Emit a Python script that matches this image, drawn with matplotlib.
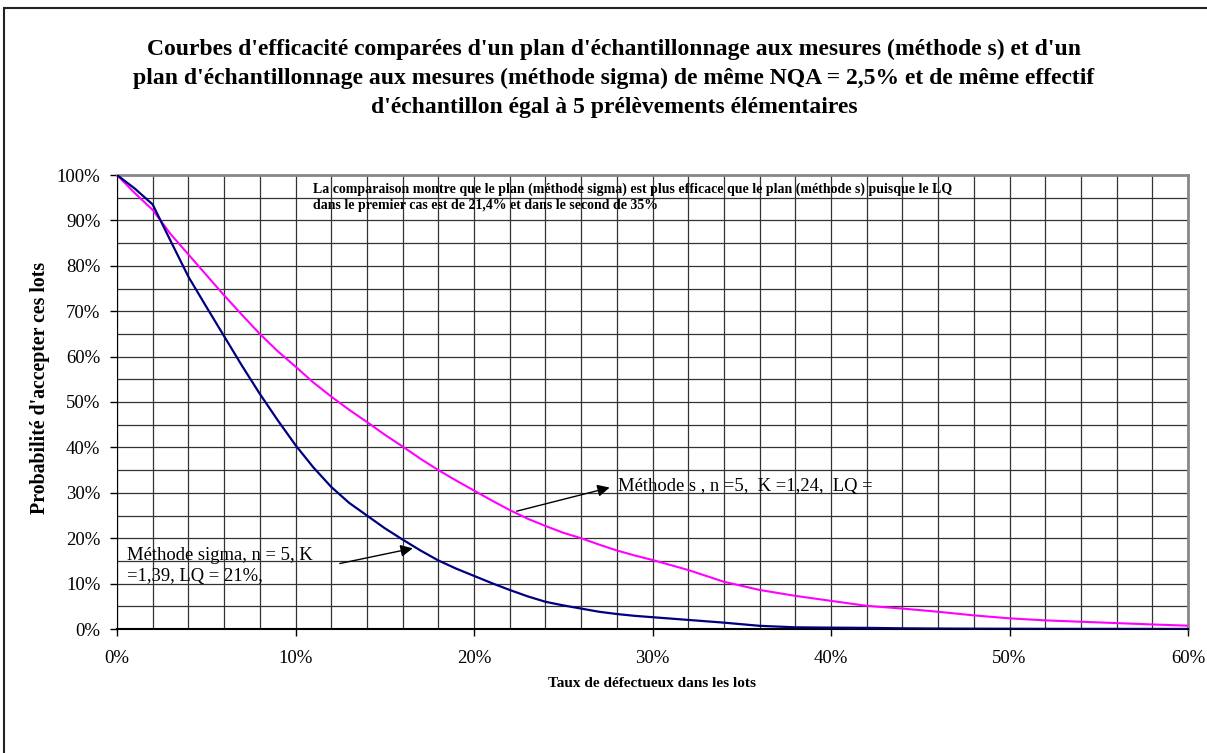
import matplotlib.pyplot as plt
from matplotlib.patches import Rectangle
from matplotlib.ticker import MultipleLocator, PercentFormatter

plt.rcParams['font.family'] = ['Liberation Serif', 'DejaVu Serif']

# Taux de défectueux (%)
taux = [0, 1, 2, 3, 4, 5, 6, 7, 8, 9, 10, 11, 12, 13, 14, 15, 16, 17, 18, 19,
        20, 21, 22, 23, 24, 25, 26, 27, 28, 29, 30, 32, 34, 36, 38, 40, 42, 44,
        46, 48, 50, 52, 54, 56, 58, 60]

# Probabilité d'acceptation (%) - méthode sigma
pa_sigma = [100, 97, 93.5, 85.5, 77.6, 71, 64.5, 58, 51.8, 46, 40.5, 35.6, 31.3,
            27.8, 25, 22.2, 19.7, 17.3, 15.1, 13.3, 11.7, 10.1, 8.6, 7.2, 6.0,
            5.2, 4.5, 3.8, 3.3, 2.9, 2.6, 2.0, 1.4, 0.7, 0.37, 0.3, 0.25, 0.15,
            0.1, 0.07, 0.05, 0.03, 0.02, 0.02, 0.01, 0.01]

# Probabilité d'acceptation (%) - méthode s
pa_s = [100, 96, 92.3, 87, 82.5, 78, 73.5, 69.2, 65, 61.2, 57.8, 54.3, 51.2,
        48.3, 45.6, 42.8, 40.2, 37.5, 35, 32.7, 30.5, 28.3, 26.2, 24.3, 22.7,
        21.2, 20, 18.6, 17.3, 16.2, 15.2, 13, 10.4, 8.6, 7.3, 6.2, 5.1, 4.5,
        3.8, 3.0, 2.35, 1.9, 1.6, 1.3, 1.0, 0.73]

titre = ("Courbes d'efficacité comparées d'un plan d'échantillonnage aux mesures (méthode s) et d'un\n"
         "plan d'échantillonnage aux mesures (méthode sigma) de même NQA = 2,5% et de même effectif\n"
         "d'échantillon égal à 5 prélèvements élémentaires")

fig = plt.figure(figsize=(12.07, 7.53), dpi=100)
ax = fig.add_axes([117 / 1207, 1 - 629 / 753, (1188 - 117) / 1207, (629 - 175) / 753])

# cadre du graphique (coupé à droite et en bas)
fig.patches.append(Rectangle((4 / 1207, -0.1), 1.2, 1 - 8 / 753 + 0.1,
                             transform=fig.transFigure, fill=False,
                             edgecolor='#222222', linewidth=1.5))

ax.plot(taux, pa_s, color='#FF00FF', linewidth=1.5, zorder=3)
ax.plot(taux, pa_sigma, color='#000080', linewidth=1.6, zorder=4)

ax.set_xlim(0, 60)
ax.set_ylim(0, 100)
ax.xaxis.set_major_locator(MultipleLocator(10))
ax.xaxis.set_minor_locator(MultipleLocator(2))
ax.yaxis.set_major_locator(MultipleLocator(10))
ax.yaxis.set_minor_locator(MultipleLocator(5))
ax.xaxis.set_major_formatter(PercentFormatter(decimals=0))
ax.yaxis.set_major_formatter(PercentFormatter(decimals=0))
ax.grid(which='both', color='#333333', linewidth=0.9)
ax.set_axisbelow(True)
ax.tick_params(which='major', direction='out', length=5, width=1, labelsize=13.5)
ax.tick_params(axis='y', pad=7)
ax.tick_params(axis='x', pad=10)
ax.tick_params(which='minor', length=0)

for side in ['top', 'right']:
    ax.spines[side].set_color('#888888')
    ax.spines[side].set_linewidth(2)
ax.spines['left'].set_color('black')
ax.spines['bottom'].set_color('black')
ax.spines['bottom'].set_linewidth(1.5)

ax.set_xlabel("Taux de défectueux dans les lots", fontsize=11, fontweight='bold', labelpad=7)
ax.set_ylabel("Probabilité d'accepter ces lots", fontsize=14.3, fontweight='bold')
ax.yaxis.set_label_coords(-0.0625, 0.531)

fig.text(614 / 1207, 1 - 78.5 / 753, titre, ha='center', va='center',
         fontsize=17, fontweight='bold', linespacing=1.5)

ax.text(11.0, 95.0, "La comparaison montre que le plan (méthode sigma) est plus efficace que le plan (méthode s) puisque le LQ\n"
        "dans le premier cas est de 21,4% et dans le second de 35%",
        fontsize=10, fontweight='bold', ha='left', va='center', linespacing=1.3, zorder=5)

ax.text(0.55, 13.9, "Méthode sigma, n = 5, K\n=1,39, LQ = 21%,", fontsize=13.4,
        ha='left', va='center', linespacing=1.3, zorder=5)
ax.annotate("", xy=(16.72, 17.9), xytext=(12.33, 14.3),
            arrowprops=dict(arrowstyle='-|>', color='black', lw=1, mutation_scale=18), zorder=5)

ax.text(28.04, 31.4, "Méthode s , n =5,  K =1,24,  LQ =", fontsize=13.4,
        ha='left', va='center', zorder=5)
ax.annotate("", xy=(27.75, 31.3), xytext=(22.24, 25.8),
            arrowprops=dict(arrowstyle='-|>', color='black', lw=1, mutation_scale=18), zorder=5)

fig.savefig("out.png", dpi=100)
